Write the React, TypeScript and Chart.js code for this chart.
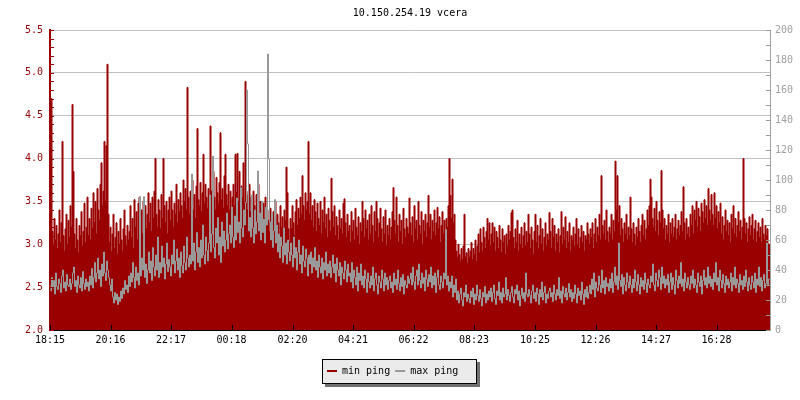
import React, { useEffect, useRef } from "react";
import { Chart, registerables } from "chart.js";

Chart.register(...registerables);

const TITLE = "10.150.254.19 vcera";
const SERIES_LABELS = ["min ping", "max ping"];
const X_TICK_MINUTES = [0, 121, 242, 363, 485, 606, 727, 848, 970, 1091, 1212, 1333];
const X_TICK_LABELS = ["18:15", "20:16", "22:17", "00:18", "02:20", "04:21", "06:22", "08:23", "10:25", "12:26", "14:27", "16:28"];
const STEP_MINUTES = 2;
const SPAN_MINUTES = 1440;

// min ping (ms), left axis, one value per 2 minutes
const MIN_PING = [
  3.72, 3.70, 4.70, 3.15, 2.98, 3.30, 3.05, 3.22, 2.95, 3.12, 3.40, 3.02, 3.25, 4.20, 3.10, 2.92, 3.18, 3.35, 3.00, 3.28,
  3.08, 3.45, 3.20, 4.63, 3.85, 3.12, 2.95, 3.30, 3.05, 2.90, 3.22, 3.10, 3.38, 2.98, 3.15, 3.48, 3.02, 3.20, 3.55, 3.10,
  3.30, 3.05, 3.42, 3.18, 3.60, 3.25, 3.50, 3.12, 3.65, 3.40, 3.28, 3.70, 3.95, 3.45, 3.62, 4.20, 3.50, 4.15, 5.10, 3.35,
  3.02, 3.20, 2.92, 3.12, 3.35, 2.95, 3.08, 3.25, 2.88, 3.15, 3.00, 3.30, 3.05, 2.92, 3.18, 3.40, 3.10, 2.98, 3.22, 3.05,
  3.15, 3.45, 3.08, 3.30, 2.95, 3.52, 3.20, 3.38, 3.05, 3.48, 3.55, 3.22, 3.40, 3.12, 3.50, 3.28, 3.45, 3.18, 3.35, 3.60,
  3.25, 3.48, 3.15, 3.55, 3.30, 3.62, 4.00, 3.35, 3.20, 3.52, 3.40, 3.18, 3.58, 3.30, 4.00, 3.45, 3.25, 3.50, 3.12, 3.40,
  3.55, 3.28, 3.62, 3.40, 3.20, 3.48, 3.35, 3.70, 3.25, 3.52, 3.38, 3.60, 3.45, 3.30, 3.75, 3.50, 3.65, 3.40, 4.83, 3.55,
  3.35, 3.62, 3.48, 3.75, 3.40, 3.58, 3.30, 3.68, 4.35, 3.52, 3.45, 3.72, 3.38, 3.60, 4.05, 3.48, 3.70, 3.55, 3.42, 3.65,
  3.50, 4.38, 3.62, 3.45, 3.85, 3.55, 3.40, 3.78, 3.60, 3.48, 3.72, 4.30, 3.52, 3.65, 3.42, 3.80, 4.05, 3.58, 3.45, 3.70,
  3.40, 3.62, 3.35, 3.55, 3.70, 3.45, 4.05, 3.60, 4.06, 3.50, 3.85, 3.42, 3.68, 3.55, 3.95, 3.48, 4.90, 3.62, 3.40, 3.58,
  3.70, 3.38, 3.55, 3.28, 3.62, 3.45, 3.30, 3.58, 3.42, 3.70, 3.25, 3.50, 3.35, 3.18, 3.48, 3.30, 3.55, 3.22, 3.40, 3.28,
  3.15, 3.42, 3.30, 3.05, 3.38, 3.22, 3.50, 3.12, 3.35, 3.25, 3.08, 3.45, 3.20, 3.32, 3.10, 3.40, 3.28, 3.90, 3.60, 3.18,
  3.02, 3.30, 3.18, 3.45, 3.25, 3.10, 3.38, 3.52, 3.22, 3.42, 3.30, 3.55, 3.35, 3.80, 3.45, 3.28, 3.60, 3.40, 3.50, 4.20,
  3.35, 3.60, 3.28, 3.45, 3.20, 3.52, 3.38, 3.15, 3.48, 3.30, 3.22, 3.50, 3.12, 3.40, 3.25, 3.55, 3.18, 3.35, 3.08, 3.42,
  3.28, 3.15, 3.77, 3.38, 3.20, 3.45, 3.10, 3.32, 3.22, 3.05, 3.40, 3.18, 3.30, 3.12, 3.48, 3.53, 3.25, 3.08, 3.35, 3.15,
  3.22, 3.02, 3.38, 3.15, 3.28, 3.05, 3.42, 3.20, 3.10, 3.32, 3.00, 3.25, 3.15, 3.50, 3.30, 3.08, 3.40, 3.18, 3.28, 3.05,
  3.35, 3.12, 3.45, 3.22, 3.02, 3.38, 3.15, 3.50, 3.30, 3.08, 3.25, 3.42, 3.18, 3.02, 3.32, 3.12, 3.40, 2.98, 3.22, 3.10,
  3.30, 3.05, 3.20, 3.38, 3.66, 3.28, 3.12, 3.55, 3.22, 3.02, 3.35, 3.15, 3.28, 3.00, 3.42, 3.18, 3.08, 3.30, 3.20, 3.12,
  3.54, 3.25, 3.10, 3.32, 3.02, 3.45, 3.18, 3.28, 3.05, 3.50, 3.22, 3.12, 3.38, 3.00, 3.28, 3.15, 3.35, 3.08, 3.25, 3.57,
  3.20, 3.35, 3.05, 3.28, 3.15, 3.40, 3.10, 3.25, 3.43, 3.18, 3.32, 3.02, 3.22, 3.38, 3.12, 3.28, 3.05, 3.30, 3.20, 3.45,
  4.00, 3.57, 3.30, 3.76, 3.25, 3.35, 3.05, 2.92, 2.85, 3.00, 2.88, 2.80, 2.95, 2.82, 2.98, 3.35, 2.85, 2.90, 2.78, 2.95,
  2.85, 2.92, 3.02, 2.82, 2.95, 2.88, 3.05, 2.80, 2.98, 3.12, 2.90, 3.18, 3.02, 2.92, 3.20, 3.08, 2.95, 3.15, 3.30, 3.05,
  3.25, 2.98, 3.12, 3.25, 3.02, 3.20, 2.92, 3.15, 3.08, 2.95, 3.22, 3.05, 2.90, 3.18, 3.02, 3.10, 2.88, 3.12, 2.98, 3.22,
  3.05, 3.15, 3.37, 3.40, 3.08, 2.95, 3.18, 3.02, 3.28, 2.92, 3.12, 3.00, 3.20, 2.95, 3.10, 3.25, 2.98, 3.15, 3.02, 3.35,
  3.12, 2.95, 3.20, 3.05, 2.88, 3.15, 3.35, 3.02, 3.22, 2.95, 3.10, 3.30, 3.00, 3.18, 2.92, 3.08, 3.25, 2.98, 3.12, 3.05,
  3.37, 3.15, 2.95, 3.30, 3.08, 3.22, 2.92, 3.12, 3.02, 3.18, 2.90, 3.10, 3.38, 3.00, 3.20, 3.05, 3.32, 2.95, 3.15, 3.02,
  3.25, 2.92, 3.10, 3.05, 3.20, 2.98, 3.12, 3.30, 3.00, 3.18, 2.95, 3.08, 3.22, 3.02, 3.15, 2.92, 3.10, 3.05, 3.25, 3.12,
  3.00, 3.18, 3.08, 3.25, 2.95, 3.12, 3.30, 3.02, 3.20, 3.10, 3.35, 3.05, 3.80, 3.22, 3.12, 3.28, 3.05, 3.40, 3.15, 3.02,
  3.20, 3.12, 3.35, 3.05, 3.28, 3.15, 3.97, 3.40, 3.80, 3.25, 3.45, 3.10, 3.30, 3.18, 3.02, 3.25, 3.12, 3.35, 3.05, 3.20,
  3.10, 3.55, 3.18, 3.02, 3.25, 3.12, 2.98, 3.20, 3.08, 3.30, 3.15, 3.02, 3.22, 3.35, 3.10, 3.28, 3.05, 3.18, 3.40, 3.22,
  3.45, 3.76, 3.55, 3.30, 3.20, 3.42, 3.15, 3.50, 3.28, 3.10, 3.38, 3.25, 3.86, 3.40, 3.18, 3.30, 3.05, 3.22, 3.12, 3.35,
  3.02, 3.25, 3.12, 3.30, 3.08, 3.20, 3.35, 3.05, 3.18, 3.28, 3.10, 3.22, 3.38, 3.15, 3.67, 3.25, 3.05, 3.30, 3.12, 3.20,
  3.08, 3.35, 3.22, 3.45, 3.12, 3.40, 3.28, 3.50, 3.20, 3.42, 3.32, 3.15, 3.48, 3.38, 3.25, 3.52, 3.30, 3.45, 3.22, 3.65,
  3.40, 3.28, 3.58, 3.35, 3.22, 3.60, 3.30, 3.45, 3.18, 3.38, 3.25, 3.48, 3.12, 3.32, 3.05, 3.22, 3.40, 3.15, 3.28, 3.10,
  3.25, 3.02, 3.35, 3.18, 3.45, 3.12, 3.30, 3.08, 3.22, 3.38, 3.15, 3.28, 3.05, 3.20, 4.00, 3.30, 3.12, 3.25, 3.02, 3.18,
  3.32, 3.10, 3.22, 3.35, 3.05, 3.18, 3.28, 3.02, 3.15, 3.25, 3.08, 3.20, 3.02, 3.30, 3.12, 3.05, 3.22, 3.10, 3.18, 3.00,
];

// max ping (ms), right axis, one value per 2 minutes
const MAX_PING = [
  30, 26, 35, 28, 33, 24, 38, 29, 27, 34, 31, 25, 36, 40, 28, 32, 26, 37, 30, 29,
  34, 27, 31, 38, 42, 29, 33, 25, 36, 30, 28, 35, 26, 39, 31, 27, 34, 29, 32, 26,
  36, 30, 41, 28, 35, 45, 32, 38, 48, 34, 40, 29, 44, 36, 52, 38, 33, 46, 40, 35,
  30, 26, 34, 22, 18, 25, 20, 24, 17, 22, 19, 26, 21, 28, 24, 33, 27, 30, 25, 36,
  29, 38, 32, 45, 35, 28, 42, 33, 38, 30, 89, 36, 48, 40, 89, 35, 44, 31, 40, 52,
  38, 46, 33, 55, 42, 36, 50, 40, 62, 35, 45, 38, 56, 42, 48, 34, 44, 58, 39, 47,
  42, 36, 50, 44, 60, 38, 46, 54, 40, 48, 35, 52, 43, 38, 56, 45, 40, 62, 48, 42,
  50, 44, 104, 46, 58, 40, 52, 65, 45, 55, 42, 60, 48, 70, 50, 44, 62, 53, 46, 58,
  90, 52, 64, 116, 55, 48, 68, 58, 75, 50, 62, 45, 72, 56, 66, 52, 60, 78, 54, 64,
  70, 58, 82, 62, 55, 76, 60, 88, 65, 72, 58, 95, 68, 62, 80, 70, 85, 160, 124, 66,
  75, 62, 90, 68, 58, 80, 64, 72, 106, 66, 78, 60, 86, 65, 74, 58, 82, 70, 184, 114,
  72, 60, 78, 55, 66, 87, 58, 70, 52, 64, 48, 62, 56, 45, 68, 50, 58, 44, 60, 52,
  46, 58, 50, 42, 62, 48, 55, 40, 52, 60, 44, 50, 38, 56, 46, 42, 54, 48, 36, 50,
  44, 52, 38, 48, 42, 55, 40, 46, 35, 50, 42, 38, 48, 34, 45, 40, 52, 36, 44, 38,
  46, 35, 42, 50, 38, 44, 32, 48, 40, 36, 45, 30, 42, 38, 34, 46, 40, 32, 44, 36,
  38, 32, 45, 28, 40, 35, 30, 42, 26, 38, 33, 44, 30, 36, 28, 40, 34, 25, 38, 32,
  28, 36, 30, 42, 26, 34, 38, 30, 24, 36, 32, 28, 40, 34, 26, 38, 30, 35, 27, 33,
  36, 28, 32, 25, 38, 30, 34, 27, 40, 31, 26, 35, 29, 37, 24, 33, 30, 28, 36, 31,
  34, 38, 30, 42, 32, 27, 36, 40, 30, 44, 33, 28, 38, 31, 35, 26, 40, 34, 29, 37,
  32, 42, 28, 36, 30, 38, 25, 35, 40, 30, 27, 36, 32, 28, 38, 34, 67, 30, 36, 26,
  32, 28, 36, 22, 30, 25, 34, 20, 26, 18, 24, 28, 20, 16, 25, 22, 30, 19, 24, 21,
  18, 26, 22, 28, 17, 24, 20, 30, 23, 19, 27, 21, 16, 25, 22, 29, 18, 24, 20, 26,
  22, 28, 19, 25, 30, 21, 17, 26, 23, 32, 20, 25, 18, 28, 22, 24, 35, 20, 27, 23,
  19, 25, 29, 22, 18, 27, 24, 30, 20, 26, 16, 23, 28, 21, 25, 19, 38, 24, 22, 27,
  23, 18, 26, 30, 21, 25, 19, 28, 24, 17, 27, 22, 32, 20, 25, 29, 18, 24, 21, 26,
  28, 22, 25, 19, 30, 24, 20, 27, 23, 35, 21, 26, 18, 29, 24, 22, 28, 20, 25, 31,
  22, 27, 19, 25, 21, 30, 24, 18, 28, 23, 26, 20, 32, 24, 17, 27, 22, 29, 21, 25,
  30, 24, 34, 27, 38, 22, 32, 28, 26, 36, 30, 25, 40, 28, 33, 24, 35, 29, 31, 26,
  34, 28, 38, 25, 32, 42, 30, 36, 27, 58, 33, 29, 37, 24, 35, 30, 26, 38, 32, 28,
  36, 30, 25, 34, 28, 40, 32, 26, 37, 30, 24, 35, 29, 33, 27, 38, 31, 25, 34, 30,
  28, 36, 32, 44, 30, 26, 38, 33, 29, 40, 35, 27, 42, 31, 36, 28, 34, 30, 37, 25,
  32, 38, 27, 35, 30, 24, 40, 33, 28, 36, 31, 45, 29, 34, 26, 38, 32, 28, 35, 30,
  27, 36, 31, 40, 28, 34, 30, 25, 38, 32, 29, 36, 24, 33, 40, 30, 35, 28, 42, 31,
  36, 29, 34, 27, 38, 32, 45, 30, 35, 26, 40, 33, 28, 37, 31, 25, 36, 30, 34, 28,
  32, 38, 26, 35, 30, 42, 28, 34, 31, 25, 37, 30, 33, 27, 36, 29, 40, 32, 26, 35,
  30, 27, 36, 32, 28, 38, 25, 34, 30, 42, 29, 35, 26, 33, 37, 28, 31, 58, 30, 34,
];

const RED = "#990000";
const GRAY = "#999999";
const FONT_FAMILY = "'DejaVu Sans Mono', monospace";
const FONT = { family: FONT_FAMILY, size: 10, weight: "normal" as const };

function toPoints(values: number[]) {
  const pts = values.map((v, i) => ({ x: i * STEP_MINUTES, y: v }));
  pts.push({ x: SPAN_MINUTES, y: values[values.length - 1] });
  return pts;
}

const decorPlugin = {
  id: "rrdDecor",
  afterLayout(chart: any) {
    const t = chart.titleBlock;
    const ca = chart.chartArea;
    if (t && ca) {
      const mid = (ca.left + ca.right) / 2;
      const half = Math.min(mid, chart.width - mid);
      t.left = mid - half;
      t.right = mid + half;
    }
  },
  beforeDatasetDraw(chart: any, args: any) {
    if (args.index === 1) {
      chart.ctx.save();
      chart.ctx.translate(0.5, 0);
    }
  },
  afterDatasetDraw(chart: any, args: any) {
    if (args.index === 1) {
      chart.ctx.restore();
    }
  },
  afterDraw(chart: any) {
    const ctx: CanvasRenderingContext2D = chart.ctx;
    const ca = chart.chartArea;
    const xs = chart.scales.x;
    const yl = chart.scales.y;
    const yr = chart.scales.y1;
    ctx.save();
    ctx.lineWidth = 1;
    ctx.strokeStyle = "#000";
    ctx.beginPath();
    X_TICK_MINUTES.forEach((m) => {
      const px = Math.round(xs.getPixelForValue(m)) + 0.5;
      ctx.moveTo(px, ca.bottom);
      ctx.lineTo(px, ca.bottom - 5);
    });
    ctx.stroke();
    ctx.strokeStyle = RED;
    ctx.beginPath();
    for (let k = 0; k <= 35; k++) {
      const v = 2 + k * 0.1;
      const py = Math.round(yl.getPixelForValue(v)) + 0.5;
      ctx.moveTo(ca.left, py);
      ctx.lineTo(ca.left + 4, py);
    }
    ctx.stroke();
    ctx.strokeStyle = GRAY;
    ctx.beginPath();
    for (let v = 0; v <= 200; v += 10) {
      const py = Math.round(yr.getPixelForValue(v)) + 0.5;
      ctx.moveTo(ca.right - 4, py);
      ctx.lineTo(ca.right, py);
    }
    ctx.stroke();

    ctx.font = `10px ${FONT_FAMILY}`;
    const items = chart.data.datasets.map((d: any) => ({ label: d.label, color: d.borderColor }));
    const padL = 5, padR = 18, markerW = 10, gap = 5, itemGap = 5;
    let w = padL + padR;
    items.forEach((it: any, i: number) => {
      w += markerW + gap + ctx.measureText(it.label).width + (i < items.length - 1 ? itemGap : 0);
    });
    w = Math.round(w);
    const h = 24;
    const left = Math.round(399 - w / 2);
    const top = 359;
    ctx.fillStyle = "#707070";
    ctx.fillRect(left + 3, top + 3, w + 1, h + 1);
    ctx.fillStyle = "#ebebeb";
    ctx.fillRect(left, top, w, h);
    ctx.strokeStyle = "#000";
    ctx.strokeRect(left + 0.5, top + 0.5, w, h);
    let cx = left + padL;
    const cy = top + 12;
    ctx.textBaseline = "middle";
    ctx.textAlign = "left";
    items.forEach((it: any) => {
      ctx.fillStyle = it.color;
      ctx.fillRect(cx, cy - 1, markerW, 2);
      cx += markerW + gap;
      ctx.fillStyle = "#000";
      ctx.fillText(it.label, cx, cy);
      cx += ctx.measureText(it.label).width + itemGap;
    });
    ctx.restore();
  },
};

export default function App() {
  const canvasRef = useRef<HTMLCanvasElement | null>(null);

  useEffect(() => {
    if (!canvasRef.current) return;
    const chart = new Chart(canvasRef.current, {
      type: "line",
      data: {
        datasets: [
          {
            label: SERIES_LABELS[0],
            data: toPoints(MIN_PING),
            yAxisID: "y",
            borderColor: RED,
            backgroundColor: RED,
            borderWidth: 1,
            pointRadius: 0,
            stepped: "after",
            fill: "start",
            order: 1,
          },
          {
            label: SERIES_LABELS[1],
            data: toPoints(MAX_PING),
            yAxisID: "y1",
            borderColor: GRAY,
            backgroundColor: GRAY,
            borderWidth: 1,
            pointRadius: 0,
            stepped: "after",
            fill: false,
            order: 0,
          },
        ],
      },
      options: {
        responsive: false,
        animation: false,
        layout: { padding: { left: 0, right: 0, top: 0, bottom: 50 } },
        plugins: {
          legend: { display: false },
          tooltip: { enabled: false },
          title: {
            display: true,
            text: TITLE,
            color: "#000",
            font: FONT,
            padding: { top: 7, bottom: 11 },
          },
        },
        scales: {
          x: {
            type: "linear",
            min: 0,
            max: SPAN_MINUTES,
            afterBuildTicks: (s: any) => {
              s.ticks = X_TICK_MINUTES.map((v) => ({ value: v }));
            },
            afterFit: (s: any) => {
              s.height = 20;
            },
            ticks: {
              autoSkip: false,
              maxRotation: 0,
              minRotation: 0,
              color: "#000",
              font: FONT,
              padding: 4,
              callback: (v: any) => {
                const i = X_TICK_MINUTES.indexOf(Number(v));
                return i >= 0 ? X_TICK_LABELS[i] : "";
              },
            },
            grid: { drawOnChartArea: false, drawTicks: false },
            border: { display: true, color: "#000", width: 1 },
          },
          y: {
            type: "linear",
            position: "left",
            min: 2,
            max: 5.5,
            afterFit: (s: any) => {
              s.width = 50;
            },
            ticks: {
              stepSize: 0.5,
              color: RED,
              font: FONT,
              padding: 7,
              callback: (v: any) => Number(v).toFixed(1),
            },
            grid: { color: "#c0c0c0", lineWidth: 1, drawTicks: false },
            border: { display: true, color: RED, width: 2 },
          },
          y1: {
            type: "linear",
            position: "right",
            min: 0,
            max: 200,
            afterFit: (s: any) => {
              s.width = 30;
            },
            ticks: {
              stepSize: 20,
              color: "#a0a0a0",
              font: FONT,
              padding: 5,
            },
            grid: { drawOnChartArea: false, drawTicks: false },
            border: { display: true, color: "#a0a0a0", width: 1 },
          },
        },
      },
      plugins: [decorPlugin],
    });
    return () => chart.destroy();
  }, []);

  return (
    <div style={{ position: "absolute", left: 0, top: 0, width: 800, height: 400, background: "#fff" }}>
      <canvas ref={canvasRef} width={800} height={400} />
    </div>
  );
}
